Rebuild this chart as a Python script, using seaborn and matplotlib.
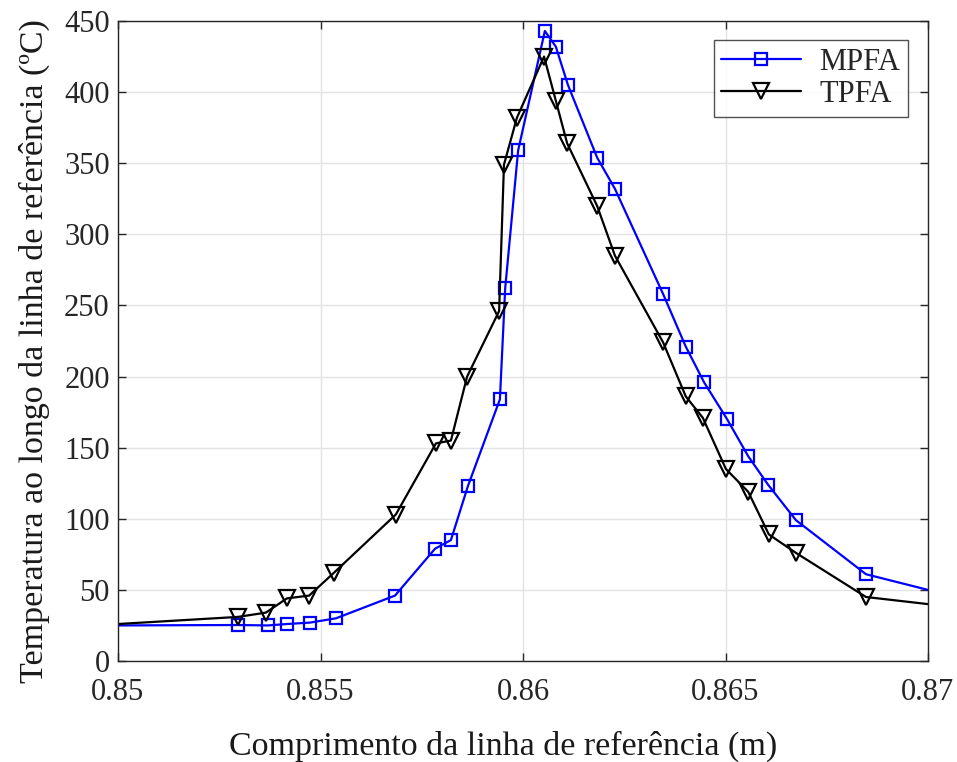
import matplotlib
matplotlib.use("Agg")
import matplotlib.pyplot as plt
from matplotlib.lines import Line2D
import seaborn as sns
import pandas as pd

mpfa_x = [0.85, 0.85296, 0.85370, 0.85417, 0.85474, 0.85538, 0.85684, 0.85783, 0.85822,
          0.85864, 0.85943, 0.85956, 0.85988, 0.86054, 0.86081, 0.86111, 0.86183, 0.86227,
          0.86346, 0.86402, 0.86447, 0.86504, 0.86556, 0.86605, 0.86674, 0.86847, 0.87]
mpfa_y = [25, 25.3, 25, 26, 27, 30, 46, 79, 85,
          123, 184, 262, 359, 443, 432, 405, 354, 332,
          258, 221, 196, 170, 144, 124, 99, 61, 50]

tpfa_x = [0.85, 0.85296, 0.85365, 0.85417, 0.85472, 0.85533, 0.85686, 0.85785, 0.85822,
          0.85862, 0.85941, 0.85953, 0.85985, 0.86052, 0.86081, 0.86109, 0.86183, 0.86227,
          0.86346, 0.86402, 0.86444, 0.86501, 0.86556, 0.86607, 0.86674, 0.86847, 0.87]
tpfa_y = [26, 31, 34, 44, 46, 62, 103, 153, 155,
          200, 246, 349, 382, 425, 394, 364, 320, 285,
          224, 186, 171, 135, 119, 89, 76, 45, 40]

x_ticks = [0.85, 0.855, 0.86, 0.865, 0.87]
x_tick_labels = ["0.85", "0.855", "0.86", "0.865", "0.87"]
y_ticks = list(range(0, 451, 50))

sns.set_theme(style="whitegrid")
plt.rcParams['font.family'] = ['Liberation Serif', 'DejaVu Serif']

fig = plt.figure(figsize=(9.57, 7.62), dpi=100)
ax = fig.add_axes([118/957, 1-661/762, 810/957, 640/762])

df_m = pd.DataFrame({"x": mpfa_x, "y": mpfa_y})
df_t = pd.DataFrame({"x": tpfa_x, "y": tpfa_y})

blue = "#0000ff"
sns.lineplot(data=df_m, x="x", y="y", ax=ax, color=blue, lw=1.6,
             marker="s", markersize=9, markerfacecolor="none", markeredgecolor=blue,
             markeredgewidth=1.6, markevery=slice(1, -1), sort=False, legend=False)
sns.lineplot(data=df_t, x="x", y="y", ax=ax, color="black", lw=1.6,
             marker="v", markersize=11, markerfacecolor="none", markeredgecolor="black",
             markeredgewidth=1.6, markevery=slice(1, -1), sort=False, legend=False)

ax.set_xlim(0.85, 0.87)
ax.set_ylim(0, 450)
ax.set_xticks(x_ticks)
ax.set_xticklabels(x_tick_labels)
ax.set_yticks(y_ticks)
ax.grid(True, color="#e3e3e3", lw=1.0)
for s in ax.spines.values():
    s.set_visible(True)
    s.set_color("#262626")
    s.set_linewidth(1.0)
ax.tick_params(direction="in", length=6, width=1, colors="#262626", labelsize=22,
               top=True, right=True, bottom=True, left=True, labelcolor="#262626")
ax.tick_params(axis="x", pad=12)
ax.tick_params(axis="y", pad=6)
ax.set_xlabel("Comprimento da linha de referência (m)", fontsize=24.5, labelpad=17, color="#1a1a1a")
ax.set_ylabel("Temperatura ao longo da linha de referência (ºC)", fontsize=24.5, labelpad=10, color="#1a1a1a")
ax.xaxis.label.set_x(0.475)
ax.yaxis.label.set_y(0.484)

handles = [
    Line2D([], [], color=blue, lw=1.6, marker="s", markersize=9, markerfacecolor="none",
           markeredgecolor=blue, markeredgewidth=1.6),
    Line2D([], [], color="black", lw=1.6, marker="v", markersize=11, markerfacecolor="none",
           markeredgecolor="black", markeredgewidth=1.6),
]
leg = ax.legend(handles, ["MPFA", "TPFA"], loc="upper right", bbox_to_anchor=(0.975, 0.97),
                borderaxespad=0, numpoints=1, fontsize=22, frameon=True, fancybox=False,
                edgecolor="#262626", handlelength=2.6, labelspacing=0.1, borderpad=0.25,
                handletextpad=0.6)
leg.get_frame().set_linewidth(1.0)

fig.savefig("out.png", dpi=100, facecolor="white")
